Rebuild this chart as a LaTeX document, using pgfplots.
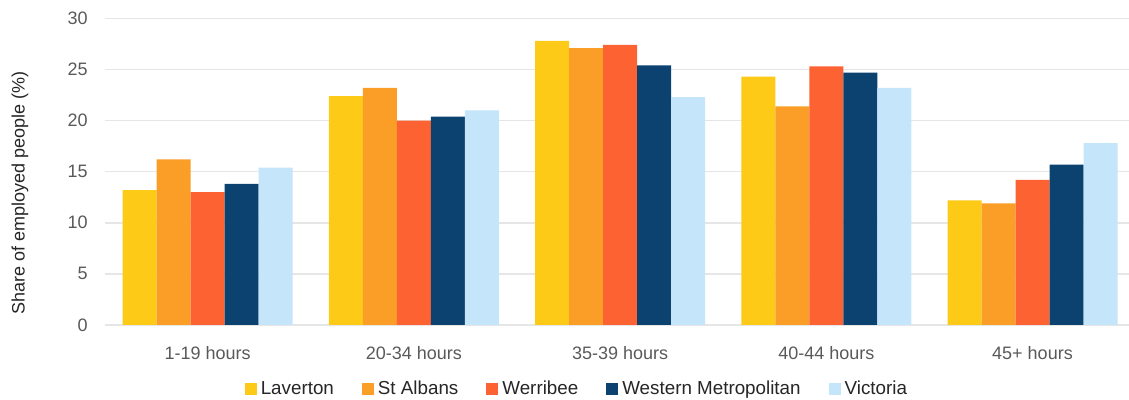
\documentclass[border=0pt]{standalone}
\usepackage{pgfplots}
\pgfplotsset{compat=1.18}
\usepackage{fontspec}
\setmainfont{Liberation Sans}
\definecolor{cLav}{HTML}{FDCA17}
\definecolor{cStA}{HTML}{FB9E28}
\definecolor{cWer}{HTML}{FD6332}
\definecolor{cWM}{HTML}{0B4270}
\definecolor{cVic}{HTML}{C5E5FB}
\definecolor{tgray}{HTML}{595959}
\definecolor{ggray}{HTML}{E6E6E6}
\begin{document}
\begin{tikzpicture}
\useasboundingbox (0,0) rectangle (564.5pt,200pt);
\begin{axis}[
  at={(52.3pt,37.5pt)}, anchor=south west,
  scale only axis,
  width=512.2pt, height=153.3pt,
  ybar=0pt, bar width=17pt,
  xmin=-0.5, xmax=4.468,
  ymin=0, ymax=30,
  ytick={0,5,...,30},
  xtick={0,1,2,3,4},
  xticklabels={1-19 hours,20-34 hours,35-39 hours,40-44 hours,45+ hours},
  ymajorgrids, grid style={ggray, line width=0.75pt},
  axis line style={draw=none},
  tick style={draw=none},
  font=\fontsize{9pt}{11pt}\selectfont,
  ticklabel style={text=tgray},
  /pgf/number format/assume math mode=true,
  xticklabel style={yshift=-3pt},
  yticklabel style={xshift=-5pt},
  ylabel={Share of employed people (\%)},
  ylabel style={at={(axis description cs:-0.0826,0.43)}, anchor=center, text=black!85},
  legend columns=-1,
  legend style={draw=none, at={(axis description cs:0.462,-0.21)}, anchor=center,
    font=\fontsize{9.4pt}{11pt}\selectfont, text=black!85,
    /tikz/every even column/.append style={column sep=12pt}},
  legend image code/.code={\fill[#1] (0pt,-3pt) rectangle (6pt,3pt);},
]
\addplot[fill=cLav, draw=none] coordinates {(0,13.2) (1,22.4) (2,27.8) (3,24.3) (4,12.2)};
\addplot[fill=cStA, draw=none] coordinates {(0,16.2) (1,23.2) (2,27.1) (3,21.4) (4,11.9)};
\addplot[fill=cWer, draw=none] coordinates {(0,13.0) (1,20.0) (2,27.4) (3,25.3) (4,14.2)};
\addplot[fill=cWM, draw=none] coordinates {(0,13.8) (1,20.4) (2,25.4) (3,24.7) (4,15.7)};
\addplot[fill=cVic, draw=none] coordinates {(0,15.4) (1,21.0) (2,22.3) (3,23.2) (4,17.8)};
\legend{Laverton,St Albans,Werribee,Western Metropolitan,Victoria}
\end{axis}
\end{tikzpicture}
\end{document}
